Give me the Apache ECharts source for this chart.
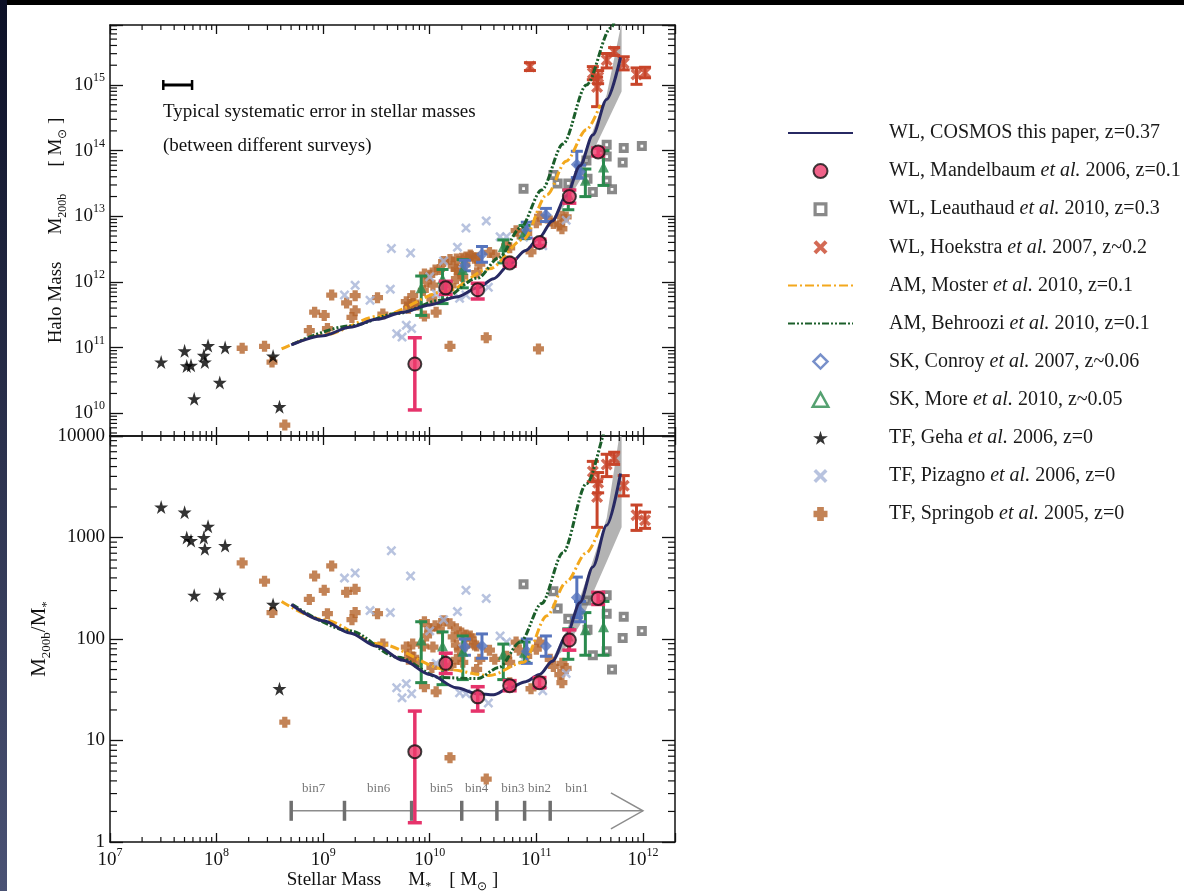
<!DOCTYPE html>
<html><head><meta charset="utf-8">
<script src="https://cdn.jsdelivr.net/npm/echarts/dist/echarts.min.js"></script>
<style>html,body{margin:0;padding:0;background:#fff;}#c{width:1184px;height:891px;}</style>
</head><body><div id="c"></div>
<script>
// ---------------- DATA (log10 values) ----------------
const legendNames = [
  'WL, COSMOS this paper, z=0.37',
  'WL, Mandelbaum et al. 2006, z=0.1',
  'WL, Leauthaud et al. 2010, z=0.3',
  'WL, Hoekstra et al. 2007, z~0.2',
  'AM, Moster et al. 2010, z=0.1',
  'AM, Behroozi et al. 2010, z=0.1',
  'SK, Conroy et al. 2007, z~0.06',
  'SK, More et al. 2010, z~0.05',
  'TF, Geha et al. 2006, z=0',
  'TF, Pizagno et al. 2006, z=0',
  'TF, Springob et al. 2005, z=0'
];
// WL COSMOS this paper (curve)
const cosmosLogMstar = [8.70, 9.00, 9.25, 9.50, 9.75, 10.00, 10.25, 10.45, 10.60, 10.75, 10.90, 11.03, 11.15, 11.28, 11.41, 11.53, 11.66, 11.79];
const cosmosLogMhalo = [11.04, 11.18, 11.31, 11.43, 11.54, 11.65, 11.77, 11.91, 12.05, 12.27, 12.48, 12.68, 12.93, 13.31, 13.77, 14.24, 14.78, 15.42];
// COSMOS uncertainty band
const bandLogMstar = [11.15, 11.28, 11.41, 11.53, 11.66, 11.80];
const bandLogLo    = [12.93, 13.20, 13.55, 13.98, 14.42, 14.90];
const bandLogHi    = [12.95, 13.36, 13.82, 14.30, 14.85, 15.95];
// AM Moster
const mosterLogMstar = [8.61, 9.00, 9.53, 10.16, 10.56, 10.88, 11.10, 11.28, 11.47, 11.60];
const mosterLogMhalo = [10.98, 11.19, 11.48, 11.86, 12.20, 12.65, 13.33, 13.84, 14.32, 14.70];
// AM Behroozi
const behrooziLogMstar = [8.71, 9.25, 9.70, 10.10, 10.45, 10.65, 10.85, 11.05, 11.25, 11.47, 11.70, 11.76];
const behrooziLogMhalo = [11.05, 11.33, 11.52, 11.72, 12.06, 12.37, 12.82, 13.40, 14.10, 15.00, 15.87, 16.10];
// WL Mandelbaum
const mandLogMstar = [9.86, 10.15, 10.45, 10.75, 11.03, 11.31, 11.58];
const mandLogMhalo = [10.75, 11.91, 11.88, 12.29, 12.60, 13.30, 13.98];
const mandErrLo    = [0.70, 0.10, 0.14, 0.05, 0.05, 0.10, 0.06];
const mandErrHi    = [0.40, 0.10, 0.10, 0.05, 0.05, 0.10, 0.06];
// WL Leauthaud
const leauLogMstar = [10.88, 11.16, 11.20, 11.30, 11.47, 11.48, 11.66, 11.66, 11.82, 11.81, 11.99, 11.53, 11.71, 11.66];
const leauLogMhalo = [13.42, 13.63, 13.50, 13.50, 13.85, 13.57, 14.09, 13.91, 14.04, 13.82, 14.07, 13.37, 13.41, 13.54];
// WL Hoekstra
const hoekLogMstar = [10.94, 11.53, 11.58, 11.57, 11.66, 11.73, 11.82, 11.94, 12.02];
const hoekLogMhalo = [15.28, 15.18, 15.12, 14.97, 15.38, 15.51, 15.33, 15.16, 15.19];
const hoekErrLo    = [0.06, 0.10, 0.10, 0.30, 0.12, 0.06, 0.10, 0.15, 0.08];
const hoekErrHi    = [0.06, 0.10, 0.10, 0.15, 0.10, 0.06, 0.10, 0.10, 0.08];
// SK Conroy
const conroyLogMstar = [10.33, 10.49, 10.91, 11.09, 11.38, 11.41];
const conroyLogMhalo = [12.25, 12.42, 12.79, 13.02, 13.79, 13.68];
const conroyErrLo    = [0.08, 0.12, 0.12, 0.10, 0.20, 0.10];
const conroyErrHi    = [0.08, 0.12, 0.12, 0.10, 0.20, 0.10];
// SK More
const moreLogMstar = [9.92, 10.12, 10.31, 10.69, 10.89, 11.30, 11.46, 11.63];
const moreLogMhalo = [11.91, 12.05, 12.19, 12.54, 12.76, 13.33, 13.55, 13.75];
const moreErrLo    = [0.42, 0.38, 0.28, 0.25, 0.10, 0.23, 0.25, 0.28];
const moreErrHi    = [0.18, 0.14, 0.15, 0.10, 0.10, 0.07, 0.17, 0.25];
// TF Geha
const gehaLogMstar = [7.48, 7.70, 7.72, 7.76, 7.88, 7.89, 7.92, 7.79, 8.03, 8.08, 8.53, 8.59];
const gehaLogMhalo = [10.78, 10.95, 10.72, 10.73, 10.88, 10.78, 11.03, 10.22, 10.47, 11.00, 10.87, 10.10];
// TF Pizagno
const pizLogMstar = [9.20, 9.30, 9.44, 9.63, 9.64, 9.82, 10.34, 10.26, 10.13, 9.69, 9.78, 9.74, 9.83, 10.34, 10.06, 10.53, 10.00, 10.31, 10.66, 10.72, 10.88, 10.28, 10.55, 11.06, 11.28];
const pizLogMhalo = [11.80, 11.95, 11.72, 11.89, 12.51, 12.44, 12.82, 12.53, 12.32, 11.21, 11.34, 11.16, 11.29, 11.80, 11.82, 12.93, 12.08, 12.28, 12.69, 12.69, 12.68, 11.75, 11.92, 12.55, 12.94];
// TF Springob
const springLogMstar = [8.24, 8.45, 8.52, 8.64, 8.87, 8.92, 9.01, 9.04, 9.08, 9.22, 9.30, 9.30, 9.27, 9.51, 9.56, 9.78, 9.84, 9.81, 9.85, 9.80, 9.94, 10.03, 9.95, 10.06, 10.02, 9.97, 10.05, 10.13, 10.19, 10.22, 10.25, 10.30, 10.38, 10.42, 9.88, 9.95, 10.00, 10.09, 10.25, 10.34, 10.39, 10.33, 10.28, 10.25, 10.20, 10.31, 10.44, 10.47, 10.44, 10.56, 10.61, 10.72, 10.75, 10.81, 10.84, 10.91, 11.00, 11.03, 11.13, 11.16, 11.24, 11.28, 10.75, 10.95, 11.22, 11.24, 10.19, 10.53, 11.02];
const springLogMhalo = [10.99, 11.02, 10.78, 9.82, 11.26, 11.54, 11.49, 11.29, 11.80, 11.68, 11.79, 11.56, 11.46, 11.76, 11.51, 11.70, 11.79, 11.66, 11.67, 11.60, 11.87, 11.95, 11.48, 11.54, 11.74, 12.00, 12.18, 12.31, 12.34, 12.24, 12.19, 12.36, 12.41, 12.36, 11.65, 12.12, 12.10, 12.19, 12.35, 12.38, 12.39, 12.26, 12.17, 12.05, 11.94, 12.08, 12.37, 12.27, 12.14, 12.45, 12.41, 12.55, 12.52, 12.78, 12.73, 12.74, 12.90, 13.00, 12.93, 12.89, 13.00, 12.99, 12.32, 12.46, 12.87, 12.81, 11.02, 11.15, 10.98];
// typical systematic error bar (log M*, log Mh)
const sysErrLogMstar = [7.50, 7.77];
const sysErrLogMhalo = 15.0;
// stellar-mass bins (lower panel)
const binEdgesLogM = [8.70, 9.20, 9.83, 10.30, 10.63, 10.89, 11.13];
const binArrowEndLogM = 12.0;
const binNames = ['bin7', 'bin6', 'bin5', 'bin4', 'bin3', 'bin2', 'bin1'];
const binLabelLogM = [8.91, 9.52, 10.11, 10.44, 10.78, 11.03, 11.38];
const binArrowRatio = 2.03;
const binLabelRatio = 3.35;
// axis ranges
const X_MIN = 1e7, X_MAX = 2e12;
const YH_MIN = 4.5e9, YH_MAX = 8.2e15;
const YR_MIN = 1, YR_MAX = 1e4;

// ---------------- helpers ----------------
const FONT = 'Liberation Serif';
const INK = '#111';
const P = v => Math.pow(10, v);
const U = {xAxisIndex: 0, yAxisIndex: 0};
const L = {xAxisIndex: 2, yAxisIndex: 2};
const ptsU = (lm, lh) => lm.map((m, i) => [P(m), P(lh[i])]);
const ptsL = (lm, lh) => lm.map((m, i) => [P(m), P(lh[i] - m)]);
const errU = (lm, lh, lo, hi) => lm.map((m, i) => [P(m), P(lh[i] - lo[i]), P(lh[i] + hi[i])]);
const errL = (lm, lh, lo, hi) => lm.map((m, i) => [P(m), P(lh[i] - lo[i] - m), P(lh[i] + hi[i] - m)]);

const SYM = {
  star: 'path://M50,0 L61,35 L98,35 L68,57 L79,91 L50,70 L21,91 L32,57 L2,35 L39,35 Z',
  plus: 'path://M2.6,0 H7.4 V2.6 H10 V7.4 H7.4 V10 H2.6 V7.4 H0 V2.6 H2.6 Z',
  xThick: 'path://M2,0 L5,3 L8,0 L10,2 L7,5 L10,8 L8,10 L5,7 L2,10 L0,8 L3,5 L0,2 Z',
  xMed: 'path://M1.8,0 L5,3.2 L8.2,0 L10,1.8 L6.8,5 L10,8.2 L8.2,10 L5,6.8 L1.8,10 L0,8.2 L3.2,5 L0,1.8 Z',
  sqDot: 'path://M0,0 H10 V10 H0 Z M3.6,3.6 V6.4 H6.4 V3.6 Z',
  sqHollow: 'path://M0,0 H10 V10 H0 Z M2.3,2.3 V7.7 H7.7 V2.3 Z',
  diamond: 'path://M5,0 L10,5 L5,10 L0,5 Z',
  triangle: 'path://M5,0 L10,9 L0,9 Z'
};
const COL = {
  cosmos: '#272963', mand: '#ec3b6c', mandBar: '#e6336b', leau: '#6b6b6b', hoek: '#c8452a',
  moster: '#f3a81d', behroozi: '#1b5e2a', conroy: '#5674bd', more: '#2a8a4e', geha: '#000',
  piz: '#a6b4d7', spring: '#b4642c', band: '#a6a6a6'
};

function scatter(name, data, ax, symbol, size, itemStyle, z) {
  return Object.assign({type: 'scatter', name, data, symbol, symbolSize: size, itemStyle, z, silent: true, clip: true}, ax);
}
function line(name, data, ax, color, type, z) {
  return Object.assign({type: 'line', name, data, symbol: 'circle', showSymbol: false, smooth: 0.3, smoothMonotone: 'x',
    lineStyle: {color, width: 3, type}, itemStyle: {color: 'rgba(0,0,0,0)'}, z, silent: true, clip: true}, ax);
}
function errbar(data, ax, color, capW, lw, z) {
  return Object.assign({type: 'custom', data, z, silent: true, clip: true, encode: {x: 0, y: [1, 2]},
    renderItem: (params, api) => {
      const x = api.value(0);
      const a = api.coord([x, api.value(1)]), b = api.coord([x, api.value(2)]);
      const st = {stroke: color, lineWidth: lw};
      return {type: 'group', children: [
        {type: 'line', shape: {x1: a[0], y1: a[1], x2: b[0], y2: b[1]}, style: st},
        {type: 'line', shape: {x1: a[0] - capW / 2, y1: a[1], x2: a[0] + capW / 2, y2: a[1]}, style: st},
        {type: 'line', shape: {x1: b[0] - capW / 2, y1: b[1], x2: b[0] + capW / 2, y2: b[1]}, style: st}
      ]};
    }}, ax);
}
function band(ax, toY, dummy, z) {
  return Object.assign({type: 'custom', data: [dummy], z, silent: true, clip: true,
    renderItem: (params, api) => {
      const pts = [];
      bandLogMstar.forEach((m, i) => pts.push(api.coord([P(m), toY(m, bandLogHi[i])])));
      for (let i = bandLogMstar.length - 1; i >= 0; i--) pts.push(api.coord([P(bandLogMstar[i]), toY(bandLogMstar[i], bandLogLo[i])]));
      return {type: 'polygon', shape: {points: pts}, style: {fill: COL.band, opacity: 0.85}};
    }}, ax);
}
function minorList(e0, e1, lo, hi) {
  const out = [];
  for (let e = e0; e <= e1; e++) for (let k = 2; k <= 9; k++) { const v = k * Math.pow(10, e); if (v > lo && v < hi) out.push(v); }
  return out;
}
function minorX(ax, yRef, vals) {
  return Object.assign({type: 'custom', data: vals.map(v => [v, yRef]), z: 20, silent: true,
    renderItem: (params, api) => {
      const p = api.coord([api.value(0), yRef]); const cs = params.coordSys;
      const st = {stroke: INK, lineWidth: 1.2};
      return {type: 'group', children: [
        {type: 'line', shape: {x1: p[0], y1: cs.y + cs.height, x2: p[0], y2: cs.y + cs.height - 5}, style: st},
        {type: 'line', shape: {x1: p[0], y1: cs.y, x2: p[0], y2: cs.y + 5}, style: st}]};
    }}, ax);
}
function minorY(ax, xRef, vals) {
  return Object.assign({type: 'custom', data: vals.map(v => [xRef, v]), z: 20, silent: true,
    renderItem: (params, api) => {
      const p = api.coord([xRef, api.value(1)]); const cs = params.coordSys;
      const st = {stroke: INK, lineWidth: 1.2};
      return {type: 'group', children: [
        {type: 'line', shape: {x1: cs.x, y1: p[1], x2: cs.x + 7, y2: p[1]}, style: st},
        {type: 'line', shape: {x1: cs.x + cs.width, y1: p[1], x2: cs.x + cs.width - 7, y2: p[1]}, style: st}]};
    }}, ax);
}

const powRich = {
  b: {fontFamily: FONT, fontSize: 19, lineHeight: 26, color: INK},
  s: {fontFamily: FONT, fontSize: 12, lineHeight: 12, verticalAlign: 'top', color: INK}
};
function powFmt(v) { const e = Math.log10(v), r = Math.round(e); return Math.abs(e - r) < 1e-6 ? '{b|10}{s|' + r + '}' : ''; }
function plainFmt(v) { const e = Math.log10(v), r = Math.round(e); return Math.abs(e - r) < 1e-6 ? '{b|' + Math.round(v) + '}' : ''; }
const nameRich = {
  a: {fontFamily: FONT, fontSize: 19, lineHeight: 26, color: INK},
  s: {fontFamily: FONT, fontSize: 12, lineHeight: 14, verticalAlign: 'bottom', color: INK},
  g1: {width: 27}, g2: {width: 18}
};
const nameRichL = {
  a: {fontFamily: FONT, fontSize: 21, lineHeight: 28, color: INK},
  s: {fontFamily: FONT, fontSize: 13, lineHeight: 15, verticalAlign: 'bottom', color: INK}
};

function axisBase(gridIndex, position, min, max, labels, tickLen) {
  return {type: 'log', logBase: 10, gridIndex, position, min, max,
    axisLine: {show: true, onZero: false, lineStyle: {color: INK, width: 1.5}},
    axisTick: {show: true, inside: true, length: tickLen, lineStyle: {color: INK, width: 1.3}},
    axisLabel: labels || {show: false},
    splitLine: {show: false}, minorTick: {show: false}, minorSplitLine: {show: false}};
}
const xLab = {show: true, margin: 5, formatter: powFmt, rich: powRich};
const yLabU = {show: true, margin: 5, formatter: powFmt, rich: powRich};
const yLabL = {show: true, margin: 5, formatter: plainFmt, rich: powRich};

const xAxes = [
  axisBase(0, 'bottom', X_MIN, X_MAX, null, 9),
  axisBase(0, 'top', X_MIN, X_MAX, null, 9),
  Object.assign(axisBase(1, 'bottom', X_MIN, X_MAX, xLab, 9), {
    name: '{a|Stellar Mass}{g1| }{a|M}{s|*}{g2| }{a|[ M}{s|⊙}{a| ]}', nameLocation: 'middle', nameGap: 25,
    nameTextStyle: {rich: nameRich}}),
  axisBase(1, 'top', X_MIN, X_MAX, null, 9)
];
const yAxes = [
  Object.assign(axisBase(0, 'left', YH_MIN, YH_MAX, yLabU, 13), {
    name: '{a|Halo Mass}{g1| }{a|M}{s|200b}{g1| }{a|[ M}{s|⊙}{a| ]}', nameLocation: 'middle', nameRotate: 90, nameGap: 41,
    nameTextStyle: {rich: nameRich}}),
  axisBase(0, 'right', YH_MIN, YH_MAX, null, 13),
  Object.assign(axisBase(1, 'left', YR_MIN, YR_MAX, yLabL, 13), {
    name: '{a|M}{s|200b}{a|/M}{s|*}', nameLocation: 'middle', nameRotate: 90, nameGap: 57,
    nameTextStyle: {rich: nameRichL}}),
  axisBase(1, 'right', YR_MIN, YR_MAX, null, 13)
];

// ---------------- series ----------------
const series = [];
function addPanel(ax, pts, err, toY, dummy) {
  series.push(band(ax, toY, dummy, 1));
  series.push(scatter(legendNames[10], pts(springLogMstar, springLogMhalo), ax, SYM.plus, 11, {color: COL.spring}, 2));
  series.push(scatter(legendNames[9], pts(pizLogMstar, pizLogMhalo), ax, SYM.xMed, 10, {color: COL.piz}, 2));
  series.push(scatter(legendNames[2], pts(leauLogMstar, leauLogMhalo), ax, SYM.sqDot, 10, {color: COL.leau}, 2));
  series.push(scatter(legendNames[8], pts(gehaLogMstar, gehaLogMhalo), ax, SYM.star, 14, {color: COL.geha}, 2));
  series.push(errbar(err(moreLogMstar, moreLogMhalo, moreErrLo, moreErrHi), ax, COL.more, 12, 3, 3));
  series.push(scatter(legendNames[7], pts(moreLogMstar, moreLogMhalo), ax, SYM.triangle, 11, {color: COL.more}, 3));
  series.push(errbar(err(conroyLogMstar, conroyLogMhalo, conroyErrLo, conroyErrHi), ax, COL.conroy, 12, 3, 3));
  series.push(scatter(legendNames[6], pts(conroyLogMstar, conroyLogMhalo), ax, SYM.diamond, 12, {color: COL.conroy}, 3));
  series.push(errbar(err(hoekLogMstar, hoekLogMhalo, hoekErrLo, hoekErrHi), ax, COL.hoek, 12, 3, 3));
  series.push(scatter(legendNames[3], pts(hoekLogMstar, hoekLogMhalo), ax, SYM.xThick, 12, {color: COL.hoek}, 3));
  series.push(line(legendNames[4], pts(mosterLogMstar, mosterLogMhalo), ax, COL.moster, [9, 3, 2, 3], 4));
  series.push(line(legendNames[5], pts(behrooziLogMstar, behrooziLogMhalo), ax, COL.behroozi, [7, 2, 2, 2, 2, 2], 4));
  series.push(line(legendNames[0], pts(cosmosLogMstar, cosmosLogMhalo), ax, COL.cosmos, 'solid', 5));
  series.push(errbar(err(mandLogMstar, mandLogMhalo, mandErrLo, mandErrHi), ax, COL.mandBar, 14, 3.5, 6));
  series.push(scatter(legendNames[1], pts(mandLogMstar, mandLogMhalo), ax, 'circle', 13, {color: COL.mand, borderColor: '#111', borderWidth: 2}, 7));
}
addPanel(U, ptsU, errU, (m, h) => P(h), [1e11, 1e12]);
addPanel(L, ptsL, errL, (m, h) => P(h - m), [1e11, 100]);

// minor ticks
const xMinor = minorList(7, 12, X_MIN, X_MAX);
series.push(minorX(U, 1e12, xMinor));
series.push(minorX(L, 10, xMinor));
series.push(minorY(U, 1e9, minorList(9, 15, YH_MIN, YH_MAX)));
series.push(minorY(L, 1e9, minorList(0, 3, YR_MIN, YR_MAX)));

// typical systematic error bar
series.push(Object.assign({type: 'custom', data: [[P(sysErrLogMstar[0]), P(sysErrLogMhalo)]], z: 8, silent: true,
  renderItem: (params, api) => {
    const a = api.coord([P(sysErrLogMstar[0]), P(sysErrLogMhalo)]);
    const b = api.coord([P(sysErrLogMstar[1]), P(sysErrLogMhalo)]);
    const st = {stroke: '#000', lineWidth: 3};
    return {type: 'group', children: [
      {type: 'line', shape: {x1: a[0], y1: a[1], x2: b[0], y2: b[1]}, style: st},
      {type: 'line', shape: {x1: a[0], y1: a[1] - 5, x2: a[0], y2: a[1] + 5}, style: {stroke: '#000', lineWidth: 2.5}},
      {type: 'line', shape: {x1: b[0], y1: b[1] - 5, x2: b[0], y2: b[1] + 5}, style: {stroke: '#000', lineWidth: 2.5}}]};
  }}, U));

// bins annotation (lower panel)
series.push(Object.assign({type: 'custom', data: [[P(binEdgesLogM[0]), binArrowRatio]], z: 2, silent: true,
  renderItem: (params, api) => {
    const ch = [];
    const a = api.coord([P(binEdgesLogM[0]), binArrowRatio]);
    const e = api.coord([P(binArrowEndLogM), binArrowRatio]);
    ch.push({type: 'line', shape: {x1: a[0], y1: a[1], x2: e[0], y2: e[1]}, style: {stroke: '#8c8c8c', lineWidth: 1.5}});
    ch.push({type: 'polyline', shape: {points: [[e[0] - 32, e[1] - 18], [e[0], e[1]], [e[0] - 32, e[1] + 18]]}, style: {stroke: '#8c8c8c', lineWidth: 1.5, fill: 'none'}});
    binEdgesLogM.forEach(m => {
      const p = api.coord([P(m), binArrowRatio]);
      ch.push({type: 'rect', shape: {x: p[0] - 1.75, y: p[1] - 10, width: 3.5, height: 20}, style: {fill: '#6f6f6f'}});
    });
    binNames.forEach((n, i) => {
      const p = api.coord([P(binLabelLogM[i]), binLabelRatio]);
      ch.push({type: 'text', x: p[0], y: p[1], style: {text: n, fontFamily: FONT, fontSize: 13, fill: '#777', align: 'center', verticalAlign: 'middle'}});
    });
    return {type: 'group', children: ch};
  }}, L));

// ---------------- legend ----------------
const legendOverrides = {
  'WL, Leauthaud et al. 2010, z=0.3': {icon: SYM.sqHollow, itemStyle: {color: COL.leau}},
  'SK, Conroy et al. 2007, z~0.06': {icon: SYM.diamond, itemStyle: {color: '#fff', borderColor: COL.conroy, borderWidth: 2.5}},
  'SK, More et al. 2010, z~0.05': {icon: SYM.triangle, itemStyle: {color: '#fff', borderColor: COL.more, borderWidth: 2.5}}
};
const legend = {
  orient: 'vertical', left: 787, top: 123, padding: 0, itemWidth: 65, itemHeight: 14, itemGap: 18.1,
  selectedMode: false,
  data: legendNames.map(n => legendOverrides[n] ? Object.assign({name: n}, legendOverrides[n]) : n),
  formatter: name => {
    const parts = name.split('et al.');
    if (parts.length > 1) return '{sp| }{t|' + parts[0] + '}{i|et al.}{t|' + parts[1] + '}';
    return '{sp| }{t|' + name + '}';
  },
  textStyle: {rich: {
    sp: {width: 31},
    t: {fontFamily: FONT, fontSize: 20, lineHeight: 22, color: '#1a1a1a'},
    i: {fontFamily: FONT, fontSize: 20, lineHeight: 22, fontStyle: 'italic', color: '#1a1a1a'}
  }}
};

const option = {
  animation: false,
  backgroundColor: '#fff',
  textStyle: {fontFamily: FONT},
  grid: [
    {left: 110, top: 25, width: 565, height: 411, containLabel: false, outerBoundsMode: 'none'},
    {left: 110, top: 436, width: 565, height: 406, containLabel: false, outerBoundsMode: 'none'}
  ],
  xAxis: xAxes, yAxis: yAxes,
  legend,
  series,
  graphic: [
    {type: 'rect', shape: {x: 0, y: 0, width: 1184, height: 5}, style: {fill: '#000'}, z: 100},
    {type: 'rect', shape: {x: 0, y: 0, width: 7, height: 891}, z: 100,
      style: {fill: new echarts.graphic.LinearGradient(0, 0, 0, 1, [{offset: 0, color: '#0c1026'}, {offset: 1, color: '#4a5274'}])}},
    {type: 'text', x: 163, y: 112, style: {text: 'Typical systematic error in stellar masses', fontFamily: FONT, fontSize: 19, fill: INK, verticalAlign: 'middle'}},
    {type: 'text', x: 163, y: 146, style: {text: '(between different surveys)', fontFamily: FONT, fontSize: 19, fill: INK, verticalAlign: 'middle'}}
  ]
};
const chart = echarts.init(document.getElementById('c'), null, {renderer: 'canvas', width: 1184, height: 891});
chart.setOption(option);
</script></body></html>
